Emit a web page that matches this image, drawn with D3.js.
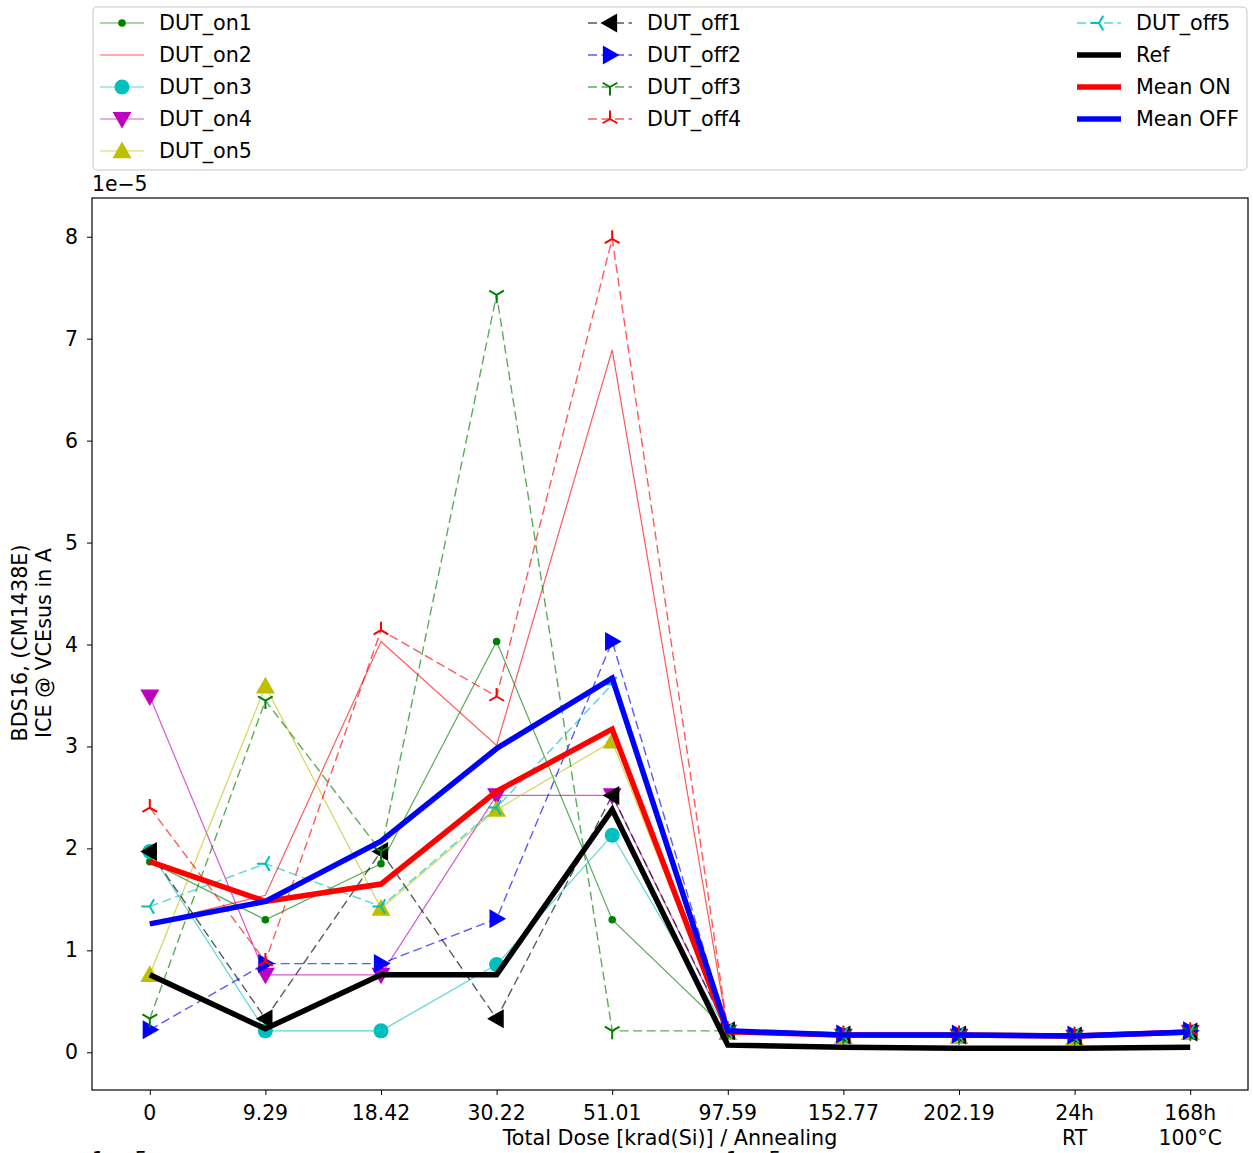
<!DOCTYPE html>
<html>
<head>
<meta charset="utf-8">
<script src="https://cdn.jsdelivr.net/npm/d3@7"></script>
<style>
  html, body { margin: 0; padding: 0; background: #fff; }
  svg { display: block; font-family: "DejaVu Sans", sans-serif; }
</style>
</head>
<body>
<script>
// ---------------- DATA ----------------
const categories = ["0", "9.29", "18.42", "30.22", "51.01", "97.59", "152.77", "202.19", "24h\nRT", "168h\n100°C"];

const DUT_on1  = [1.87, 1.30, 1.85, 4.03, 1.30, 0.21, 0.17, 0.17, 0.16, 0.20];
const DUT_on2  = [1.26, 1.54, 4.03, 3.01, 6.89, 0.21, 0.16, 0.16, 0.15, 0.19];
const DUT_on3  = [1.97, 0.21, 0.21, 0.86, 2.13, 0.20, 0.17, 0.17, 0.16, 0.20];
const DUT_on4  = [3.49, 0.76, 0.76, 2.52, 2.52, 0.20, 0.16, 0.16, 0.15, 0.20];
const DUT_on5  = [0.76, 3.59, 1.41, 2.38, 3.05, 0.19, 0.15, 0.15, 0.14, 0.19];
const DUT_off1 = [1.97, 0.33, 1.97, 0.33, 2.52, 0.21, 0.17, 0.17, 0.16, 0.20];
const DUT_off2 = [0.22, 0.87, 0.87, 1.31, 4.03, 0.22, 0.18, 0.18, 0.17, 0.21];
const DUT_off3 = [0.33, 3.45, 1.97, 7.43, 0.21, 0.21, 0.17, 0.17, 0.16, 0.20];
const DUT_off4 = [2.40, 0.89, 4.14, 3.49, 7.98, 0.22, 0.18, 0.18, 0.17, 0.21];
const DUT_off5 = [1.43, 1.85, 1.43, 2.40, 3.61, 0.21, 0.17, 0.17, 0.16, 0.20];
const Ref      = [0.76, 0.23, 0.76, 0.76, 2.38, 0.07, 0.05, 0.04, 0.04, 0.05];
const MeanON   = [1.87, 1.48, 1.65, 2.56, 3.17, 0.20, 0.17, 0.17, 0.16, 0.20];
const MeanOFF  = [1.26, 1.48, 2.07, 2.98, 3.67, 0.21, 0.17, 0.17, 0.16, 0.20];

const yTicks = [0, 1, 2, 3, 4, 5, 6, 7, 8];
const yOffsetLabel = "1e\u22125";
const xLabel = "Total Dose [krad(Si)] / Annealing";
const yLabelLines = ["BDS16, (CM1438E)", "ICE @ VCEsus in A"];

// series styling
const series = [
  { name: "DUT_on1",  values: DUT_on1,  color: "#008000", dash: false, marker: "dot",      lw: 1.2, alpha: 0.65 },
  { name: "DUT_on2",  values: DUT_on2,  color: "#ff0000", dash: false, marker: null,       lw: 1.2, alpha: 0.65 },
  { name: "DUT_on3",  values: DUT_on3,  color: "#00bfbf", dash: false, marker: "circle",   lw: 1.2, alpha: 0.65 },
  { name: "DUT_on4",  values: DUT_on4,  color: "#bf00bf", dash: false, marker: "tridown",  lw: 1.2, alpha: 0.65 },
  { name: "DUT_on5",  values: DUT_on5,  color: "#bfbf00", dash: false, marker: "triup",    lw: 1.2, alpha: 0.65 },
  { name: "DUT_off1", values: DUT_off1, color: "#000000", dash: true,  marker: "trileft",  lw: 1.4, alpha: 0.65 },
  { name: "DUT_off2", values: DUT_off2, color: "#0000ff", dash: true,  marker: "triright", lw: 1.4, alpha: 0.65 },
  { name: "DUT_off3", values: DUT_off3, color: "#008000", dash: true,  marker: "y_down",   lw: 1.4, alpha: 0.65 },
  { name: "DUT_off4", values: DUT_off4, color: "#ff0000", dash: true,  marker: "y_up",     lw: 1.4, alpha: 0.65 },
  { name: "DUT_off5", values: DUT_off5, color: "#00bfbf", dash: true,  marker: "y_left",   lw: 1.4, alpha: 0.65 },
  { name: "Ref",      values: Ref,      color: "#000000", dash: false, marker: null,       lw: 5.5, alpha: 1 },
  { name: "Mean ON",  values: MeanON,   color: "#ff0000", dash: false, marker: null,       lw: 5.5, alpha: 1 },
  { name: "Mean OFF", values: MeanOFF,  color: "#0000ff", dash: false, marker: null,       lw: 5.5, alpha: 1 }
];

// ---------------- LAYOUT ----------------
const W = 1253, H = 1153;
const plot = { left: 92, right: 1248, top: 198, bottom: 1090 };
const FS = 20.7, TFS = 20.4;

const svg = d3.select("body").append("svg").attr("width", W).attr("height", H);

const x = d3.scaleLinear().domain([-0.5, categories.length - 0.5]).range([plot.left, plot.right]);
const y = d3.scaleLinear().domain([-0.37, 8.38]).range([plot.bottom, plot.top]);

const clipId = "plotclip";
svg.append("defs").append("clipPath").attr("id", clipId)
  .append("rect").attr("x", plot.left).attr("y", plot.top)
  .attr("width", plot.right - plot.left).attr("height", plot.bottom - plot.top);

function markerPath(type, r) {
  const s = Math.sqrt(3) / 2;
  switch (type) {
    case "tridown": return `M${-r},${-r * 0.75}L${r},${-r * 0.75}L0,${r}Z`;
    case "triup":   return `M${-r},${r * 0.75}L${r},${r * 0.75}L0,${-r}Z`;
    case "trileft": return `M${r * 0.75},${-r}L${r * 0.75},${r}L${-r},0Z`;
    case "triright":return `M${-r * 0.75},${-r}L${-r * 0.75},${r}L${r},0Z`;
    case "y_down":  return `M0,0L0,${r}M0,0L${-s * r},${-r / 2}M0,0L${s * r},${-r / 2}`;
    case "y_up":    return `M0,0L0,${-r}M0,0L${-s * r},${r / 2}M0,0L${s * r},${r / 2}`;
    case "y_left":  return `M0,0L${-r},0M0,0L${r / 2},${-s * r}M0,0L${r / 2},${s * r}`;
  }
  return "";
}

function drawMarker(g, type, cx, cy, color) {
  if (!type) return;
  if (type === "dot") {
    g.append("circle").attr("cx", cx).attr("cy", cy).attr("r", 3.8).attr("fill", color);
  } else if (type === "circle") {
    g.append("circle").attr("cx", cx).attr("cy", cy).attr("r", 7.5).attr("fill", color);
  } else if (type.startsWith("y_")) {
    g.append("path").attr("d", markerPath(type, 8.5)).attr("transform", `translate(${cx},${cy})`)
      .attr("fill", "none").attr("stroke", color).attr("stroke-width", 2);
  } else {
    g.append("path").attr("d", markerPath(type, 9.5)).attr("transform", `translate(${cx},${cy})`)
      .attr("fill", color);
  }
}

// ---------------- PLOT ----------------
const plotG = svg.append("g").attr("clip-path", `url(#${clipId})`);
const line = d3.line().x((d, i) => x(i)).y(d => y(d));

series.forEach(s => {
  const g = plotG.append("g");
  g.append("path").datum(s.values).attr("d", line)
    .attr("fill", "none").attr("stroke", s.color).attr("stroke-width", s.lw)
    .attr("stroke-opacity", s.alpha)
    .attr("stroke-linejoin", "miter")
    .attr("stroke-dasharray", s.dash ? "9,4.5" : null);
  s.values.forEach((v, i) => drawMarker(g, s.marker, x(i), y(v), s.color));
});

// frame
svg.append("rect").attr("x", plot.left).attr("y", plot.top)
  .attr("width", plot.right - plot.left).attr("height", plot.bottom - plot.top)
  .attr("fill", "none").attr("stroke", "#000").attr("stroke-width", 1.2);

// Y axis
const yAxis = d3.axisLeft(y).tickValues(yTicks).tickFormat(d3.format("d")).tickSize(5).tickPadding(9);
const yg = svg.append("g").attr("transform", `translate(${plot.left},0)`).call(yAxis);
yg.select(".domain").remove();
yg.selectAll("text").attr("font-size", TFS).attr("fill", "#000").attr("font-family", "DejaVu Sans");
yg.selectAll("line").attr("stroke", "#000").attr("stroke-width", 1);

// X axis
const xAxis = d3.axisBottom(x).tickValues(d3.range(categories.length)).tickFormat("").tickSize(5);
const xg = svg.append("g").attr("transform", `translate(0,${plot.bottom})`).call(xAxis);
xg.select(".domain").remove();
xg.selectAll("line").attr("stroke", "#000").attr("stroke-width", 1);
categories.forEach((c, i) => {
  const lines = c.split("\n");
  const t = svg.append("text").attr("x", x(i)).attr("y", 1120)
    .attr("text-anchor", "middle").attr("font-size", TFS).attr("fill", "#000");
  lines.forEach((l, j) => t.append("tspan").attr("x", x(i)).attr("dy", j === 0 ? 0 : 25).text(l));
});

// axis labels
svg.append("text").attr("x", (plot.left + plot.right) / 2).attr("y", 1145)
  .attr("text-anchor", "middle").attr("font-size", FS).attr("fill", "#000").text(xLabel);

const yl = svg.append("text").attr("transform", `translate(27,${(plot.top + plot.bottom) / 2 - 1}) rotate(-90)`)
  .attr("text-anchor", "middle").attr("font-size", FS).attr("fill", "#000");
yLabelLines.forEach((l, j) => yl.append("tspan").attr("x", 0).attr("dy", j === 0 ? 0 : 24).text(l));

// offset text
svg.append("text").attr("x", plot.left).attr("y", 191).attr("font-size", TFS).attr("fill", "#000").text(yOffsetLabel);
// offset labels of the subplots below, cut by the picture's bottom edge as in the reference
svg.append("text").attr("x", plot.left).attr("y", 1167).attr("font-size", TFS).attr("fill", "#000").text(yOffsetLabel);
svg.append("text").attr("x", 726).attr("y", 1167).attr("font-size", TFS).attr("fill", "#000").text(yOffsetLabel);

// ---------------- LEGEND ----------------
const leg = svg.append("g");
leg.append("rect").attr("x", 93).attr("y", 7).attr("width", 1154).attr("height", 163)
  .attr("rx", 4).attr("fill", "#fff").attr("stroke", "#d9d9d9").attr("stroke-width", 1.5);

const colX = [100, 588, 1077];
const rowY0 = 23, rowDy = 32;
const legendCols = [series.slice(0, 5), series.slice(5, 9), series.slice(9)];
legendCols.forEach((col, ci) => {
  col.forEach((s, ri) => {
    const g = leg.append("g");
    const x0 = colX[ci], x1 = x0 + 44, cy = rowY0 + ri * rowDy;
    g.append("line").attr("x1", x0).attr("x2", x1).attr("y1", cy).attr("y2", cy)
      .attr("stroke", s.color).attr("stroke-width", s.lw).attr("stroke-opacity", s.alpha)
      .attr("stroke-dasharray", s.dash ? "9,4.5" : null);
    drawMarker(g, s.marker, (x0 + x1) / 2, cy, s.color);
    g.append("text").attr("x", x0 + 59).attr("y", cy + 7).attr("font-size", FS).attr("fill", "#000").text(s.name);
  });
});
</script>
</body>
</html>
